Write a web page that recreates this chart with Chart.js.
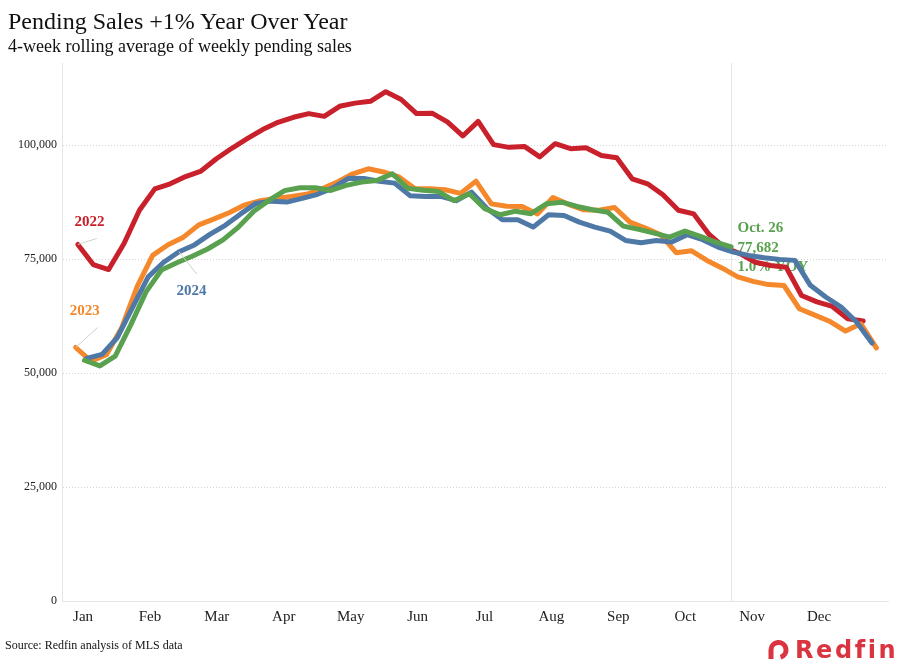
<!DOCTYPE html>
<html>
<head>
<meta charset="utf-8">
<script src="https://cdn.jsdelivr.net/npm/chart.js@4.4.1/dist/chart.umd.min.js"></script>
<style>
html,body{margin:0;padding:0;background:#fff;}
#wrap{position:relative;width:897px;height:670px;overflow:hidden;background:#fff;}
#c{position:absolute;left:0;top:0;}
.t{position:absolute;font-family:"Liberation Serif","Times New Roman",serif;color:#111;white-space:nowrap;line-height:1;}
#title{left:8px;top:9px;font-size:24px;}
#sub{left:8px;top:37px;font-size:18px;}
#src{left:5px;top:639px;font-size:12px;}
#ring{position:absolute;left:766px;top:638px;width:24px;height:24px;}
#word{position:absolute;left:795px;top:638px;font-family:"DejaVu Sans",sans-serif;font-weight:bold;font-size:24px;line-height:1;letter-spacing:2.6px;color:#d9343f;white-space:nowrap;}
</style>
</head>
<body>
<div id="wrap">
<canvas id="c" width="897" height="670"></canvas>
<div class="t" id="title">Pending Sales +1% Year Over Year</div>
<div class="t" id="sub">4-week rolling average of weekly pending sales</div>
<div class="t" id="src">Source: Redfin analysis of MLS data</div>
<svg id="ring" viewBox="0 0 24 24"><path d="M5 21 L5 12 A7.5 7.5 0 1 1 14.5 19.2" fill="none" stroke="#d9343f" stroke-width="5"/></svg>
<div id="word">Redfin</div>
</div>
<script>
// ---- data ----
const months = ['Jan','Feb','Mar','Apr','May','Jun','Jul','Aug','Sep','Oct','Nov','Dec'];
const yTicks = [0, 25000, 50000, 75000, 100000];
// day of year (0 = Jan 1) of the first weekly observation in each year
const firstDay2022 = 1;
const firstDay2023 = 0;
const firstDay2024 = 5;
const firstDay2025 = 4;
const lastDay2025 = 298; // Oct. 26
const sales2022 = [78200,73800,72700,78400,85700,90400,91500,93100,94300,97000,99300,101400,103400,105000,106100,106900,106300,108500,109200,109600,111700,110000,106900,107000,105100,102000,105200,100100,99500,99700,97400,100300,99200,99400,97700,97200,92600,91500,89100,85700,84900,80400,77500,76200,74300,73600,73200,67000,65600,64600,61900,61400];
const sales2023 = [55600,52600,54000,60000,69000,75800,78150,79800,82500,83800,85200,86900,87800,88300,88700,89200,90400,91900,93700,94800,94100,93000,90500,90400,90200,89400,92100,87100,86600,86500,84900,88500,87000,85800,85700,86300,83100,81800,80300,76400,76800,74700,73000,71100,70100,69400,69200,64100,62700,61300,59200,60800,55500];
const sales2024 = [53200,54100,57800,64500,71100,74300,76600,78100,80400,82400,84900,87200,87700,87500,88300,89200,90600,92700,92650,92050,91650,88900,88740,88740,87800,89680,86100,83630,83630,82010,84720,84570,83100,82010,81130,79090,78590,79090,78720,80340,79240,77620,76530,75800,75300,74930,74710,69230,66670,64470,61190,56580];
const sales2025 = [52800,51550,53700,60500,67800,72600,74200,75600,77200,79200,82000,85500,87900,90000,90640,90640,90050,91150,91900,92250,93700,90500,90100,89800,87800,89330,86050,84720,85500,84950,87130,87480,86540,85800,85250,82230,81500,80690,79810,81130,79970,78720,77682];
const annotationLines = ['Oct. 26', '77,682', '1.0% YOY'];

const C22 = '#c9212b', C23 = '#f5882b', C24 = '#4e79a7', C25 = '#59a14f';
const SERIF = '"Liberation Serif","Times New Roman",serif';

const toPts = (vals, start) => vals.map((v, i) => ({x: start + 7 * i, y: v}));
const tickDays = months.map((m, k) => k * 365 / 12);

function ds(label, vals, start, color, order) {
  return {label, data: toPts(vals, start), borderColor: color, backgroundColor: color,
    borderWidth: 5, pointRadius: 0, pointHoverRadius: 0, tension: 0,
    borderJoinStyle: 'round', borderCapStyle: 'round', order, fill: false};
}

const annot = {
  id: 'annot',
  beforeDatasetsDraw(chart) {
    const {ctx, chartArea: a, scales: {x, y}} = chart;
    const vx = Math.round(x.getPixelForValue(lastDay2025)) + 0.5;
    ctx.save();
    ctx.strokeStyle = '#e6e6e6';
    ctx.lineWidth = 1;
    ctx.beginPath(); ctx.moveTo(vx, a.top); ctx.lineTo(vx, a.bottom); ctx.stroke();
    const meta = chart.getDatasetMeta(0);
    const p = meta.data[meta.data.length - 1];
    ctx.fillStyle = C25;
    ctx.font = 'bold 15px ' + SERIF;
    ctx.textAlign = 'left'; ctx.textBaseline = 'middle';
    const offs = [-18.5, 1.5, 20.5];
    annotationLines.forEach((t, i) => ctx.fillText(t, vx + 6, p.y + offs[i]));
    ctx.restore();
  },
  afterDatasetsDraw(chart) {
    const {ctx} = chart;
    const pt = (di, idx) => chart.getDatasetMeta(di).data[idx];
    const labels = [
      {di: 3, idx: 0, text: '2022', color: C22, lead: [19, -6], pos: [11.7, -22]},
      {di: 2, idx: 0, text: '2023', color: C23, lead: [22, -20], pos: [9, -36]},
      {di: 1, idx: 6, text: '2024', color: C24, lead: [17.7, 22.4], pos: [12.5, 39.4]},
    ];
    ctx.save();
    labels.forEach(l => {
      const p = pt(l.di, l.idx);
      ctx.strokeStyle = '#d0d0d0'; ctx.lineWidth = 1;
      ctx.beginPath(); ctx.moveTo(p.x, p.y); ctx.lineTo(p.x + l.lead[0], p.y + l.lead[1]); ctx.stroke();
      ctx.fillStyle = l.color;
      ctx.font = 'bold 15px ' + SERIF;
      ctx.textAlign = 'center'; ctx.textBaseline = 'middle';
      ctx.fillText(l.text, p.x + l.pos[0], p.y + l.pos[1]);
    });
    ctx.restore();
  }
};

new Chart(document.getElementById('c'), {
  type: 'line',
  data: {
    datasets: [
      ds('2025', sales2025, firstDay2025, C25, 0),
      ds('2024', sales2024, firstDay2024, C24, 1),
      ds('2023', sales2023, firstDay2023, C23, 2),
      ds('2022', sales2022, firstDay2022, C22, 3),
    ]
  },
  options: {
    responsive: false,
    animation: false,
    devicePixelRatio: 1,
    layout: {padding: {left: 0, top: 63, right: 9, bottom: 0}},
    plugins: {legend: {display: false}, tooltip: {enabled: false}, title: {display: false}},
    scales: {
      x: {
        type: 'linear', min: -6.2, max: 369.3,
        afterBuildTicks: s => { s.ticks = tickDays.map(v => ({value: v})); },
        afterFit: s => { s.height = 69; },
        grid: {display: false, drawTicks: false},
        border: {display: true, color: '#e6e6e6', width: 1},
        ticks: {
          callback: (v, i) => months[i],
          padding: 7, labelOffset: 7.4, maxRotation: 0, autoSkip: false,
          color: '#222', font: {family: SERIF, size: 15}
        }
      },
      y: {
        min: 0, max: 118000,
        afterBuildTicks: s => { s.ticks = yTicks.map(v => ({value: v})); },
        afterFit: s => { s.width = 62; },
        grid: {
          drawTicks: false,
          color: c => (c.tick && c.tick.value === 0) ? 'rgba(0,0,0,0)' : '#d6d6d6',
          lineWidth: 1
        },
        border: {display: true, color: '#e6e6e6', width: 1, dash: [1, 2]},
        ticks: {
          callback: v => v.toLocaleString('en-US'),
          padding: 5, color: '#222', font: {family: SERIF, size: 12}
        }
      }
    }
  },
  plugins: [annot]
});
</script>
</body>
</html>
